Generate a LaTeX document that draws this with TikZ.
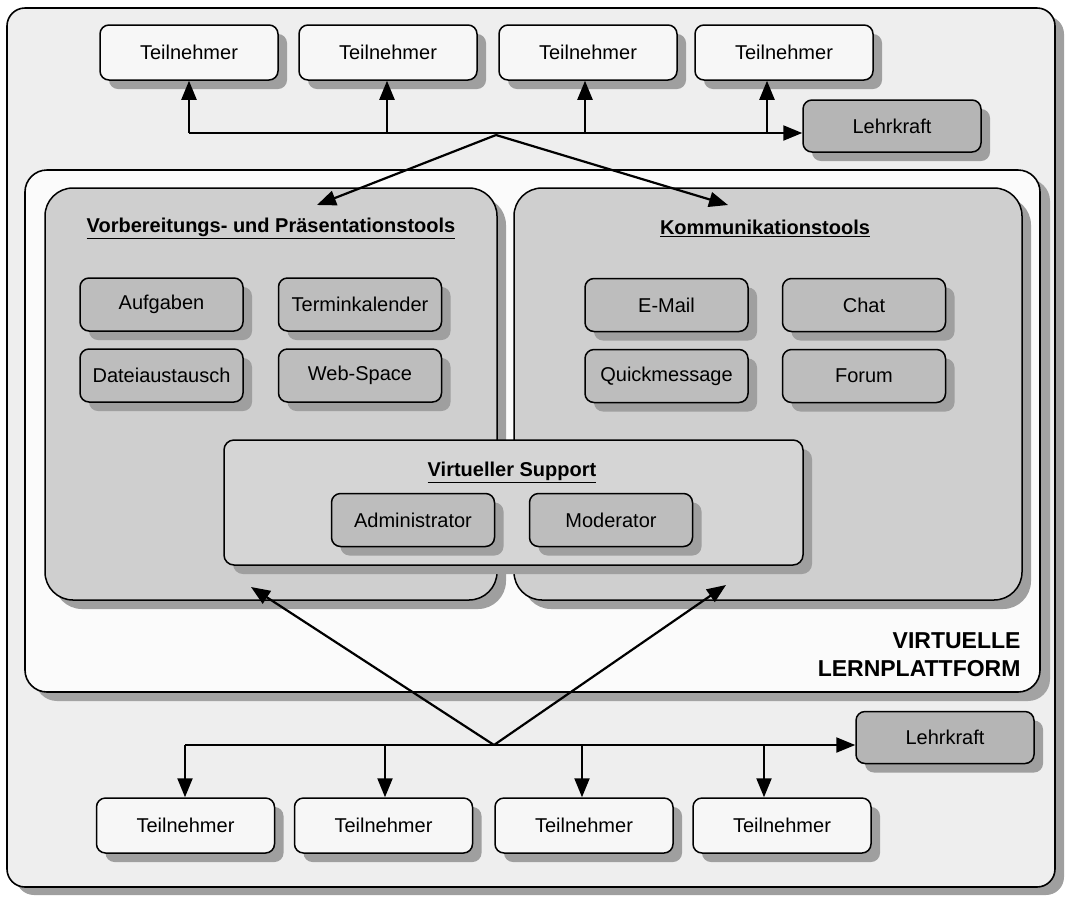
\documentclass[tikz,border=0pt]{standalone}
\usepackage{fontspec}
\setmainfont{Liberation Sans}
\usetikzlibrary{shadows,arrows.meta}
\begin{document}
\begin{tikzpicture}[x=1pt,y=-1pt,
  shd/.style={general shadow={shadow xshift=9pt,shadow yshift=-9pt,fill=gray!75}},
  rbox/.style={draw=black,line width=1.5pt,rounded corners=9pt,shd,inner sep=0pt,
     font=\fontsize{20}{23}\selectfont},
  part/.style={rbox,fill=gray!6,minimum width=178pt,minimum height=55pt},
  teach/.style={rbox,fill=gray!58,minimum width=178pt,minimum height=52pt},
  tool/.style={rbox,fill=gray!52,minimum width=163pt,minimum height=53pt},
  panel/.style={draw=black,line width=1.5pt,rounded corners=28pt,fill=gray!38,shd},
  ttl/.style={font=\fontsize{20}{23}\selectfont\bfseries},
  arr/.style={line width=2.2pt,-{Triangle[length=19pt,width=15pt]}}
]
\useasboundingbox (0,0) rectangle (1068,898);
% outer frame
\node[draw=black,line width=1.6pt,rounded corners=18pt,fill=gray!13,
  general shadow={shadow xshift=9pt,shadow yshift=-8pt,fill=gray!75},
  minimum width=1048pt,minimum height=879pt] (outer) at (531,447.5) {};
% platform
\node[draw=black,line width=1.6pt,rounded corners=22pt,fill=gray!3,
  general shadow={shadow xshift=10pt,shadow yshift=-9pt,fill=gray!72},
  minimum width=1015pt,minimum height=522pt] (plat) at (532.5,431) {};
\node[anchor=east,align=right,font=\fontsize{23}{28}\selectfont\bfseries] (platl)
  at (1024,655) {VIRTUELLE\\LERNPLATTFORM};
% panels
\node[panel,minimum width=452pt,minimum height=412pt] (lp) at (271,394) {};
\node[panel,minimum width=508pt,minimum height=412pt] (rp) at (768,394) {};
\node[ttl] (lpt) at (271,228) {\underline{Vorbereitungs- und Präsentationstools}};
\node[ttl] (rpt) at (765,228) {\underline{Kommunikationstools}};
% tools left
\node[tool] (auf) at (161.5,304.5) {Aufgaben};
\node[tool] (ter) at (360,304.5) {Terminkalender};
\node[tool] (dat) at (161.5,375.5) {Dateiaustausch};
\node[tool] (web) at (360,375.5) {Web-Space};
% tools right
\node[tool] (mail) at (666.5,305) {E-Mail};
\node[tool] (chat) at (864,305) {Chat};
\node[tool] (qm) at (666.5,376) {Quickmessage};
\node[tool] (for) at (864,376) {Forum};
% support
\node[draw=black,line width=1.5pt,rounded corners=10pt,fill=gray!33,shd,
  minimum width=579pt,minimum height=125pt] (sup) at (513.5,502.5) {};
\node[ttl] (supt) at (512,472) {\underline{Virtueller Support}};
\node[tool] (adm) at (413,520) {Administrator};
\node[tool] (mod) at (611,520) {Moderator};
% top participants
\node[part] (t1) at (189,52.5) {Teilnehmer};
\node[part] (t2) at (388,52.5) {Teilnehmer};
\node[part] (t3) at (588,52.5) {Teilnehmer};
\node[part] (t4) at (784,52.5) {Teilnehmer};
\node[teach] (lt) at (892,126) {Lehrkraft};
% bottom participants
\node[part] (b1) at (185.5,825.5) {Teilnehmer};
\node[part] (b2) at (383.5,825.5) {Teilnehmer};
\node[part] (b3) at (584,825.5) {Teilnehmer};
\node[part] (b4) at (782,825.5) {Teilnehmer};
\node[teach] (lb) at (945,737.5) {Lehrkraft};
% top connectors
\coordinate (h1) at (189,133);
\coordinate (h2) at (387,133);
\coordinate (h3) at (585,133);
\coordinate (h4) at (767,133);
\coordinate (jt) at (496,135);
\coordinate (tl) at (317,205);
\coordinate (tr) at (728,205);
\draw[arr] (h1) -- (lt.west |- h1);
\draw[arr] (h1) -- (h1 |- t1.south);
\draw[arr] (h2) -- (h2 |- t2.south);
\draw[arr] (h3) -- (h3 |- t3.south);
\draw[arr] (h4) -- (h4 |- t4.south);
\draw[arr] (jt) -- (tl);
\draw[arr] (jt) -- (tr);
% bottom connectors
\coordinate (g1) at (185,745);
\coordinate (g2) at (385,745);
\coordinate (g3) at (582,745);
\coordinate (g4) at (764,745);
\coordinate (jb) at (494,745);
\coordinate (bl) at (251,587);
\coordinate (br) at (726,585);
\draw[arr] (g1) -- (lb.west |- g1);
\draw[arr] (g1) -- (g1 |- b1.north);
\draw[arr] (g2) -- (g2 |- b2.north);
\draw[arr] (g3) -- (g3 |- b3.north);
\draw[arr] (g4) -- (g4 |- b4.north);
\draw[arr] (jb) -- (bl);
\draw[arr] (jb) -- (br);
\end{tikzpicture}
\end{document}
